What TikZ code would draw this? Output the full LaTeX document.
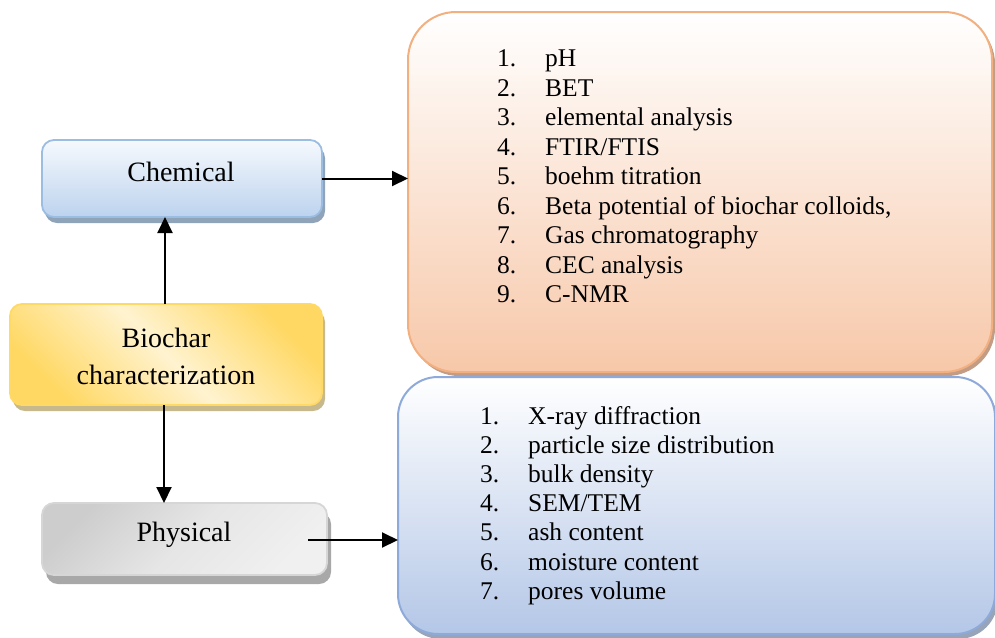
\documentclass[tikz,border=0pt]{standalone}
\usepackage{fontspec}
\setmainfont{Liberation Serif}
\usetikzlibrary{shadows,arrows.meta}
\definecolor{chemtop}{HTML}{F6F9FD}
\definecolor{chembot}{HTML}{BCD3EE}
\definecolor{chemline}{HTML}{9BBDE2}
\definecolor{chemshad}{HTML}{8FA3B9}
\definecolor{biodeep}{HTML}{FFD863}
\definecolor{biolight}{HTML}{FFF3D0}
\definecolor{bioline}{HTML}{FFD966}
\definecolor{bioshad}{HTML}{C7B98C}
\definecolor{phydark}{HTML}{CDCDCD}
\definecolor{phylight}{HTML}{F0F0F0}
\definecolor{phyline}{HTML}{D6D6D6}
\definecolor{physhad}{HTML}{A8A8A8}
\definecolor{orbot}{HTML}{F7C8A9}
\definecolor{orline}{HTML}{F2AF80}
\definecolor{orshad}{HTML}{C39C86}
\definecolor{blbot}{HTML}{B4C7E7}
\definecolor{blline}{HTML}{8EAADB}
\definecolor{blshad}{HTML}{98A4B8}
\tikzset{
  boxbase/.style={rounded corners=12pt, line width=1.8pt, outer sep=0pt, inner sep=0pt},
  chembox/.style={boxbase, draw=chemline, top color=chemtop, bottom color=chembot,
    drop shadow={shadow xshift=3pt, shadow yshift=-6pt, fill=chemshad, opacity=1}},
  biobox/.style={boxbase, draw=bioline, top color=biodeep, bottom color=biodeep, middle color=biolight, shading angle=-45,
    drop shadow={shadow xshift=3pt, shadow yshift=-6pt, fill=bioshad, opacity=1}},
  phybox/.style={boxbase, draw=phyline, top color=phydark, bottom color=phylight, middle color=phylight!70!phydark, shading angle=45,
    drop shadow={shadow xshift=4pt, shadow yshift=-9pt, fill=physhad, opacity=1}},
  orbox/.style={boxbase, line width=2pt, rounded corners=48pt, draw=orline, top color=white, bottom color=orbot,
    drop shadow={shadow xshift=3pt, shadow yshift=-4pt, fill=orshad, opacity=1}},
  blbox/.style={boxbase, line width=2pt, rounded corners=40pt, draw=blline, top color=white, bottom color=blbot,
    drop shadow={shadow xshift=3pt, shadow yshift=-5pt, fill=blshad, opacity=1}},
  lbl/.style={inner sep=0pt, font={\fontsize{28}{37}\selectfont}},
  listtxt/.style={inner sep=0pt, anchor=base west},
  arr/.style={line width=2pt, -{Triangle[length=16pt,width=15pt]}},
}
\begin{document}
\begin{tikzpicture}[x=1pt,y=-1pt]
\useasboundingbox (0,0) rectangle (995,637);
% boxes
\node[orbox, minimum width=584pt, minimum height=360pt] (orange) at (700,192) {};
\node[blbox, minimum width=597pt, minimum height=257pt] (blue) at (696.5,505.5) {};
\node[chembox, minimum width=280pt, minimum height=77pt] (chem) at (182,178.5) {};
\node[biobox, minimum width=312pt, minimum height=101pt] (bio) at (166,354.5) {};
\node[phybox, minimum width=285pt, minimum height=72pt] (phy) at (184.5,539) {};
% labels
\node[lbl] (chemtxt) at (181,172) {Chemical};
\node[lbl, align=center] (biotxt) at (166,356) {Biochar\\characterization};
\node[lbl] (phytxt) at (184,535) {Physical};
% lists
\node[listtxt, font={\fontsize{25.5}{29.5}\selectfont}] (chemlist) at (497,66.5) {%
\begin{tabular}[t]{@{}p{48pt}@{}l@{}}
1. & pH\\
2. & BET\\
3. & elemental analysis\\
4. & FTIR/FTIS\\
5. & boehm titration\\
6. & Beta potential of biochar colloids,\\
7. & Gas chromatography\\
8. & CEC analysis\\
9. & C-NMR
\end{tabular}};
\node[listtxt, font={\fontsize{25.5}{29.2}\selectfont}] (phylist) at (480,424) {%
\begin{tabular}[t]{@{}p{48pt}@{}l@{}}
1. & X-ray diffraction\\
2. & particle size distribution\\
3. & bulk density\\
4. & SEM/TEM\\
5. & ash content\\
6. & moisture content\\
7. & pores volume
\end{tabular}};
% connectors
\coordinate (pstart) at (308,540);
\coordinate (upx) at (165,0);
\coordinate (dnx) at (164,0);
\draw[arr] (chem.east) -- (chem.east -| orange.west);
\draw[arr] (bio.north -| upx) -- (chem.south -| upx);
\draw[arr] (bio.south -| dnx) -- (phy.north -| dnx);
\draw[arr] (pstart) -- (pstart -| blue.west);
\end{tikzpicture}
\end{document}
